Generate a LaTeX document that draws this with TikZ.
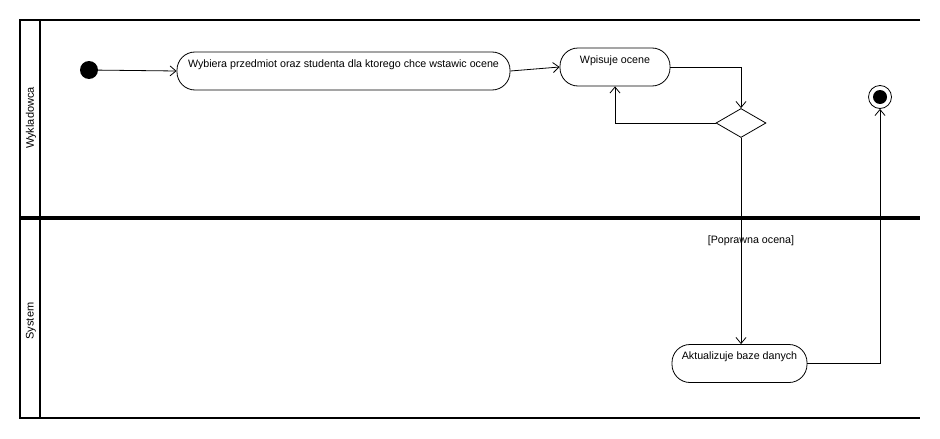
\documentclass[tikz,border=0pt]{standalone}
\usepackage{fontspec}
\setmainfont{Liberation Sans}
\usetikzlibrary{arrows.meta,shapes.geometric,positioning}
\tikzset{
  activity/.style={draw, rectangle, rounded corners=18pt, inner sep=0pt, line width=0.8pt,
    text height=15pt, text depth=23pt},
  choice/.style={draw, diamond, inner sep=0pt, line width=0.8pt,
    minimum width=50pt, minimum height=29pt},
  flow/.style={line width=0.8pt, -{Straight Barb[length=6pt,width=10pt]}},
  lane/.style={line width=2.2pt},
  lanename/.style={rotate=90, font=\fontsize{11}{13}\selectfont}
}
\begin{document}
\begin{tikzpicture}[x=1pt, y=-1pt, font=\fontsize{10.7}{13}\selectfont]
        \useasboundingbox (0, 0) rectangle (940, 439);

        \draw[lane] (920, 20) -- (20, 20) -- (20, 418) -- (920, 418);
        \draw[lane] (40, 20) -- (40, 418);
        \draw[line width=4pt] (20, 218) -- (920, 218);
        \node[lanename] (wyk) at (31, 118) {Wykladowca};
        \node[lanename] (sys) at (31, 321) {System};

        \node[circle, fill=black, minimum size=18pt, inner sep=0pt] (start) at (89, 70) {};
        \node[activity, minimum width=333pt] (wybiera) at (343.5, 71) {Wybiera przedmiot oraz studenta dla ktorego chce wstawic ocene};
        \node[activity, minimum width=110pt] (wpisuje) at (615, 67) {Wpisuje ocene};
        \node[choice] (decyzja) at (741, 123) {};
        \node[activity, minimum width=135pt] (aktualizuje) at (739.5, 363.5) {Aktualizuje baze danych};
        \node (warunek) at (751, 241) {[Poprawna ocena]};
        \node[circle, draw, line width=0.8pt, minimum size=23pt, inner sep=0pt] (koniec) at (880, 97) {};
        \node[circle, fill=black, minimum size=14pt, inner sep=0pt] (koniecsrodek) at (880, 97) {};

        \draw[flow] (start) -- (wybiera.west);
        \draw[flow] (wybiera.east) -- (wpisuje.west);
        \draw[flow] (wpisuje.east) -| (decyzja.north);
        \draw[flow] (decyzja.west) -| (wpisuje.south);
        \draw[flow] (decyzja.south) -- (decyzja.south |- aktualizuje.north);
        \draw[flow] (aktualizuje.east) -| (koniec.south);
    \end{tikzpicture}
\end{document}
